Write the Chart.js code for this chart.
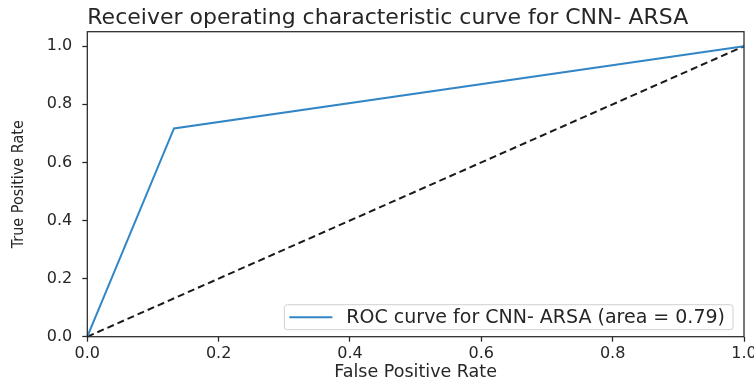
<!DOCTYPE html>
<html>
<head>
<meta charset="utf-8">
<script src="https://cdn.jsdelivr.net/npm/chart.js@4.4.1/dist/chart.umd.min.js"></script>
<style>
  html, body { margin: 0; padding: 0; background: #ffffff; }
  canvas { display: block; }
</style>
</head>
<body>
<canvas id="roc" width="754" height="381"></canvas>
<script>
// ROC operating points for the classifier
const fpr = [0, 0.132, 1];
const tpr = [0, 0.717, 1];
// chance-level reference diagonal
const chanceFpr = [0, 1];
const chanceTpr = [0, 1];
const aucValue = 0.79;
const modelName = 'CNN- ARSA';
const xTickValues = [0, 0.2, 0.4, 0.6, 0.8, 1.0];
const yTickValues = [0, 0.2, 0.4, 0.6, 0.8, 1.0];

const TEXT = '#262626';
const FONT = '"DejaVu Sans", Verdana, sans-serif';

const toPoints = (xs, ys) => xs.map((x, i) => ({ x: x, y: ys[i] }));

// Full box around the plotting area
const frame = {
  id: 'frame',
  afterDatasetsDraw(chart) {
    const { ctx, chartArea: a } = chart;
    ctx.save();
    ctx.strokeStyle = TEXT;
    ctx.lineWidth = 1.25;
    ctx.strokeRect(a.left, a.top, a.right - a.left, a.bottom - a.top);
    ctx.restore();
  }
};

// Legend box drawn inside the lower-right corner of the plot
const insideLegend = {
  id: 'insideLegend',
  afterDraw(chart) {
    const { ctx, chartArea: a } = chart;
    const ds = chart.data.datasets[0];
    ctx.save();
    ctx.font = '19px ' + FONT;
    const tw = ctx.measureText(ds.label).width;
    const h = 25, sample = 43, gapL = 5, gapT = 14, padR = 8;
    const right = a.right - 11, bottom = a.bottom - 7;
    const w = gapL + sample + gapT + tw + padR;
    const left = right - w, top = bottom - h;
    ctx.beginPath();
    ctx.roundRect(left, top, w, h, 3);
    ctx.fillStyle = 'rgba(255,255,255,0.8)';
    ctx.fill();
    ctx.strokeStyle = '#d0d0d0';
    ctx.lineWidth = 1;
    ctx.stroke();
    const cy = top + h / 2;
    ctx.beginPath();
    ctx.moveTo(left + gapL, cy);
    ctx.lineTo(left + gapL + sample, cy);
    ctx.strokeStyle = ds.borderColor;
    ctx.lineWidth = ds.borderWidth;
    ctx.stroke();
    ctx.fillStyle = TEXT;
    ctx.textBaseline = 'middle';
    ctx.textAlign = 'left';
    ctx.fillText(ds.label, left + gapL + sample + gapT, cy + 1);
    ctx.restore();
  }
};

new Chart(document.getElementById('roc'), {
  type: 'scatter',
  data: {
    datasets: [
      {
        label: 'ROC curve for ' + modelName + ' (area = ' + aucValue.toFixed(2) + ')',
        data: toPoints(fpr, tpr),
        showLine: true,
        borderColor: '#3286c6',
        borderWidth: 2,
        pointRadius: 0,
        tension: 0,
        clip: false
      },
      {
        label: 'chance',
        data: toPoints(chanceFpr, chanceTpr),
        showLine: true,
        borderColor: '#1a1a1a',
        borderWidth: 2,
        borderDash: [7, 4],
        pointRadius: 0,
        tension: 0,
        clip: false
      }
    ]
  },
  options: {
    responsive: false,
    animation: false,
    layout: { padding: { top: 0, left: 0, right: 10, bottom: 0 } },
    plugins: {
      legend: { display: false },
      tooltip: { enabled: false },
      title: {
        display: true,
        text: 'Receiver operating characteristic curve for ' + modelName,
        align: 'start',
        fullSize: false,
        color: TEXT,
        font: { family: FONT, size: 22, weight: 'normal', lineHeight: 1.2 },
        padding: { top: 5.3, bottom: 0 }
      }
    },
    scales: {
      x: {
        type: 'linear',
        min: 0,
        max: 1,
        border: { display: false },
        grid: { display: true, drawOnChartArea: false, drawTicks: true, tickLength: 5, tickWidth: 1.25, tickColor: TEXT },
        ticks: {
          color: TEXT,
          padding: 3,
          maxRotation: 0,
          font: { family: FONT, size: 16 },
          callback: (v) => Number(v).toFixed(1)
        },
        afterBuildTicks: (s) => { s.ticks = xTickValues.map(v => ({ value: v })); },
        afterFit: (s) => { s.height = 44.3; s.paddingLeft = 0; s.paddingRight = 0; },
        title: {
          display: true,
          text: 'False Positive Rate',
          color: TEXT,
          font: { family: FONT, size: 17.5, lineHeight: 1.0 },
          padding: { top: 0, bottom: 0 }
        }
      },
      y: {
        type: 'linear',
        min: 0,
        max: 1.05,
        border: { display: false },
        grid: { display: true, drawOnChartArea: false, drawTicks: true, tickLength: 5, tickWidth: 1.25, tickColor: TEXT },
        ticks: {
          color: TEXT,
          padding: 10,
          font: { family: FONT, size: 16 },
          callback: (v) => Number(v).toFixed(1)
        },
        afterBuildTicks: (s) => { s.ticks = yTickValues.map(v => ({ value: v })); },
        afterFit: (s) => { s.width = 87.3; s.paddingTop = 0; s.paddingBottom = 0; },
        title: {
          display: true,
          text: 'True Positive Rate',
          color: TEXT,
          font: { family: '"Liberation Sans Narrow", "DejaVu Sans Condensed", "Roboto Condensed", sans-serif', size: 16, lineHeight: 1.0 },
          padding: { top: 10.5, bottom: 0 }
        }
      }
    }
  },
  plugins: [frame, insideLegend]
});
</script>
</body>
</html>
